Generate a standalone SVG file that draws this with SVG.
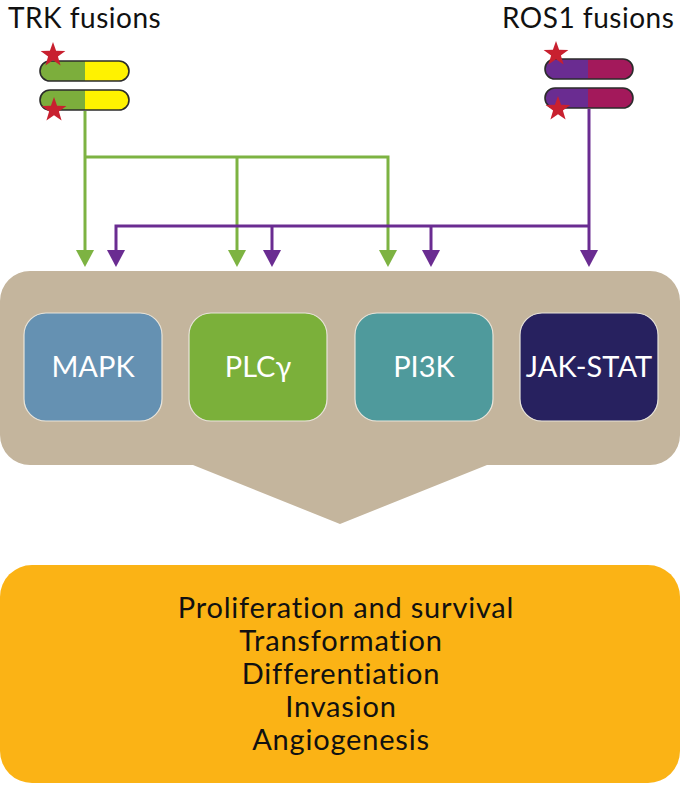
<svg xmlns="http://www.w3.org/2000/svg" width="680" height="790" viewBox="0 0 680 790">
<style>
.title{font-family:Lato,"Liberation Sans",sans-serif;font-size:28px;letter-spacing:0.5px;fill:#111}
.node{font-family:Lato,"Liberation Sans",sans-serif;font-size:29px;fill:#fff;text-anchor:middle}
.out{font-family:Lato,"Liberation Sans",sans-serif;font-size:29px;letter-spacing:0.8px;fill:#111;text-anchor:middle}
.g{stroke:#7db342;stroke-width:3;fill:none}
.p{stroke:#6a2c91;stroke-width:3;fill:none}
.box{stroke:#e8e4da;stroke-width:1.2}
.pill{fill:none;stroke:#2b2b2b;stroke-width:1.6}
</style>
<defs>
<marker id="ag" markerUnits="userSpaceOnUse" markerWidth="18" markerHeight="18" refX="9" refY="0" orient="0" viewBox="0 0 18 18"><path d="M0,0 L18,0 L9,17 Z" fill="#7db342"/></marker>
<marker id="ap" markerUnits="userSpaceOnUse" markerWidth="18" markerHeight="18" refX="9" refY="0" orient="0" viewBox="0 0 18 18"><path d="M0,0 L18,0 L9,17 Z" fill="#6a2c91"/></marker>
<polygon id="star" points="0,-13 3.1,-4.2 12.4,-4 4.9,1.6 7.6,10.5 0,5.2 -7.6,10.5 -4.9,1.6 -12.4,-4 -3.1,-4.2" fill="#c8202f"/>
</defs>

<g id="trk">
<text class="title" x="8" y="28">TRK fusions</text>
<path d="M50,61 H85 V81 H50 A10,10 0 0 1 50,61 Z" fill="#7cae3c"/>
<path d="M85,61 H119 A10,10 0 0 1 119,81 H85 Z" fill="#fff200"/>
<rect class="pill" x="40" y="61" width="89" height="20" rx="10"/>
<path d="M50,90 H85 V110 H50 A10,10 0 0 1 50,90 Z" fill="#7cae3c"/>
<path d="M85,90 H119 A10,10 0 0 1 119,110 H85 Z" fill="#fff200"/>
<rect class="pill" x="40" y="90" width="89" height="20" rx="10"/>
<use href="#star" x="53" y="55"/>
<use href="#star" x="54" y="110"/>
</g>

<g id="ros1">
<text class="title" x="502" y="28">ROS1 fusions</text>
<path d="M555,59 H588 V79 H555 A10,10 0 0 1 555,59 Z" fill="#6a2c91"/>
<path d="M588,59 H623 A10,10 0 0 1 623,79 H588 Z" fill="#a3195b"/>
<rect class="pill" x="545" y="59" width="88" height="20" rx="10"/>
<path d="M555,88 H588 V108 H555 A10,10 0 0 1 555,88 Z" fill="#6a2c91"/>
<path d="M588,88 H623 A10,10 0 0 1 623,108 H588 Z" fill="#a3195b"/>
<rect class="pill" x="545" y="88" width="88" height="20" rx="10"/>
<use href="#star" x="556" y="54"/>
<use href="#star" x="558" y="109"/>
</g>

<g id="pathways-bg">
<path d="M30,271 H650 A30,30 0 0 1 680,301 V435 A30,30 0 0 1 650,465 H487 L340,524 L193,465 H30 A30,30 0 0 1 0,435 V301 A30,30 0 0 1 30,271 Z" fill="#c4b59d"/>
</g>

<g id="mapk">
<rect class="box" x="24" y="313" width="138" height="108" rx="22" fill="#6591b2"/>
<text class="node" x="93" y="377">MAPK</text>
</g>
<g id="plcg">
<rect class="box" x="189" y="313" width="138" height="108" rx="22" fill="#7bb03a"/>
<text class="node" x="258" y="377">PLCγ</text>
</g>
<g id="pi3k">
<rect class="box" x="355" y="313" width="138" height="108" rx="22" fill="#4f9a9c"/>
<text class="node" x="424" y="377">PI3K</text>
</g>
<g id="jakstat">
<rect class="box" x="520" y="313" width="138" height="108" rx="22" fill="#27215f"/>
<text class="node" x="589" y="377">JAK-STAT</text>
</g>

<g id="outcomes">
<rect x="0" y="565" width="680" height="218" rx="32" fill="#fbb315"/>
<text class="out" x="346" y="618">Proliferation and survival</text>
<text class="out" x="341" y="651">Transformation</text>
<text class="out" x="341" y="684">Differentiation</text>
<text class="out" x="341" y="717">Invasion</text>
<text class="out" x="341" y="750">Angiogenesis</text>
</g>

<g id="connectors">
<path class="g" d="M85,111 V250" marker-end="url(#ag)"/>
<path class="g" d="M85,157 H388 V250" marker-end="url(#ag)"/>
<path class="g" d="M237,157 V250" marker-end="url(#ag)"/>
<path class="p" d="M589,109 V250" marker-end="url(#ap)"/>
<path class="p" d="M589,226 H116 V250" marker-end="url(#ap)"/>
<path class="p" d="M272,226 V250" marker-end="url(#ap)"/>
<path class="p" d="M431,226 V250" marker-end="url(#ap)"/>
</g>
</svg>
